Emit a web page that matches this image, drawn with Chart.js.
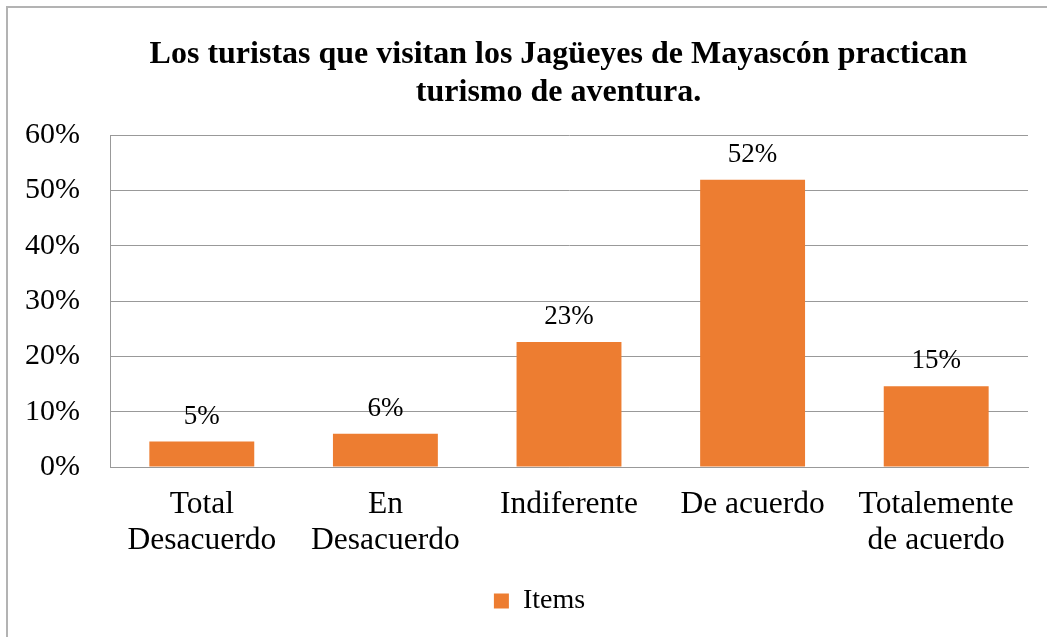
<!DOCTYPE html>
<html>
<head>
<meta charset="utf-8">
<script src="https://cdn.jsdelivr.net/npm/chart.js@4.4.1/dist/chart.umd.min.js"></script>
<style>
  html, body { margin: 0; padding: 0; background: #ffffff; }
  #wrap { position: relative; width: 1047px; height: 637px; }
</style>
</head>
<body>
<div id="wrap"><canvas id="c" width="1047" height="637"></canvas></div>
<script>
// ---- data ----
const titleLines = ['Los turistas que visitan los Jagüeyes de Mayascón practican', 'turismo de aventura.'];
const categories = [['Total', 'Desacuerdo'], ['En', 'Desacuerdo'], 'Indiferente', 'De acuerdo', ['Totalemente', 'de acuerdo']];
const seriesName = 'Items';
const values = [4.6, 6.0, 22.6, 51.9, 14.6];
const yMin = 0;
const yMax = 60;
const yStep = 10;

const FONT = "'Liberation Serif', 'Times New Roman', serif";

const frameTitlePlugin = {
  id: 'frameTitle',
  afterLayout(chart) {
    if (chart.legend) { chart.legend.left = 51; }
  },
  beforeDraw(chart) {
    const ctx = chart.ctx;
    ctx.save();
    ctx.fillStyle = '#ffffff';
    ctx.fillRect(0, 0, chart.width, chart.height);
    ctx.strokeStyle = '#b3b3b3';
    ctx.lineWidth = 2;
    ctx.strokeRect(7, 7, 1200, 1200);
    ctx.restore();
  },
  afterDraw(chart) {
    const ctx = chart.ctx;
    ctx.save();
    ctx.fillStyle = '#000000';
    ctx.font = 'bold 32px ' + FONT;
    ctx.textAlign = 'center';
    ctx.textBaseline = 'middle';
    titleLines.forEach((t, i) => ctx.fillText(t, 558.5, 55 + i * 38));
    ctx.restore();
  }
};

const dataLabelPlugin = {
  id: 'dataLabels',
  afterDatasetsDraw(chart) {
    const ctx = chart.ctx;
    const meta = chart.getDatasetMeta(0);
    ctx.save();
    ctx.fillStyle = '#000000';
    ctx.font = '27px ' + FONT;
    ctx.textAlign = 'center';
    ctx.textBaseline = 'alphabetic';
    meta.data.forEach((bar, i) => {
      ctx.fillText(Math.round(values[i]) + '%', bar.x, bar.y - 18);
    });
    ctx.restore();
  }
};

new Chart(document.getElementById('c'), {
  type: 'bar',
  data: {
    labels: categories,
    datasets: [{
      label: seriesName,
      data: values,
      backgroundColor: '#ED7D31',
      borderWidth: 0,
      categoryPercentage: 1.0,
      barPercentage: 0.5714
    }]
  },
  options: {
    responsive: false,
    animation: false,
    devicePixelRatio: 1,
    layout: { padding: { left: 0, right: 19, top: 135, bottom: 12 } },
    plugins: {
      title: { display: false },
      tooltip: { enabled: false },
      legend: {
        display: true,
        position: 'bottom',
        labels: {
          boxWidth: 15,
          boxHeight: 15,
          padding: 10,
          color: '#000000',
          font: { family: FONT, size: 28 }
        }
      }
    },
    scales: {
      x: {
        grid: { display: false, drawTicks: false },
        border: { display: true, color: '#999999', width: 1 },
        ticks: {
          color: '#000000',
          padding: 19,
          maxRotation: 0,
          autoSkip: false,
          font: { family: FONT, size: 31.5, lineHeight: 1.16 }
        },
        afterFit(s) { s.height = 110; }
      },
      y: {
        min: yMin,
        max: yMax,
        grid: { color: '#999999', lineWidth: 1, drawTicks: false },
        border: { display: true, color: '#999999', width: 1 },
        ticks: {
          stepSize: yStep,
          color: '#000000',
          padding: 30,
          font: { family: FONT, size: 30 },
          callback: v => v + '%'
        },
        afterFit(s) { s.width = 110; }
      }
    }
  },
  plugins: [frameTitlePlugin, dataLabelPlugin]
});
</script>
</body>
</html>
